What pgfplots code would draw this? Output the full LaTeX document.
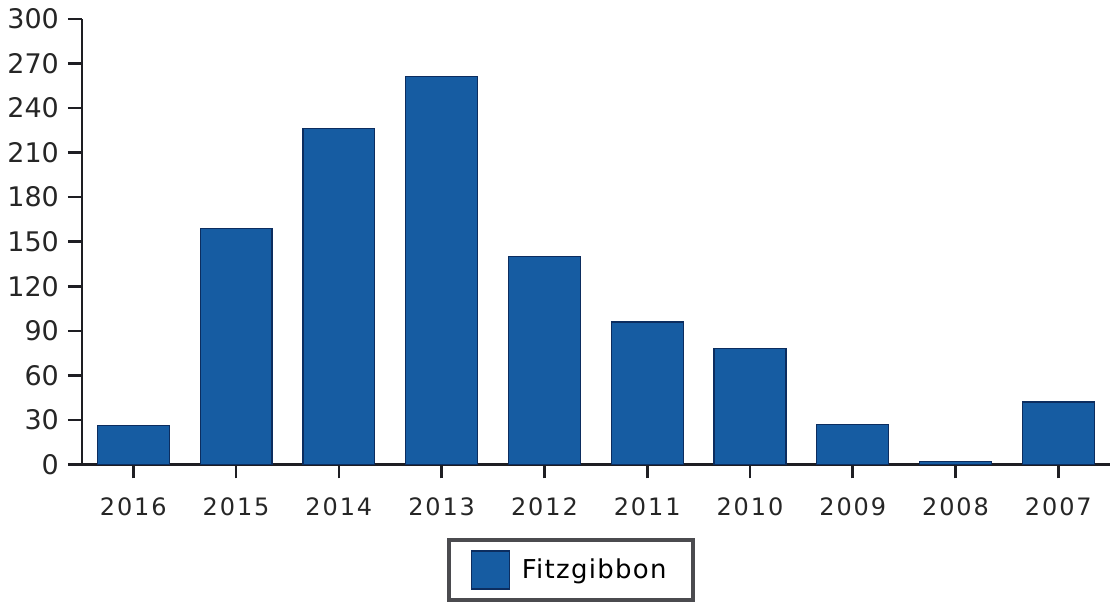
\documentclass[border=0pt]{standalone}
\usepackage{pgfplots}
\pgfplotsset{compat=1.18}
\usepackage{fontspec}
\setmainfont{DejaVu Sans}
\definecolor{barblue}{RGB}{22,92,162}
\definecolor{baredge}{RGB}{12,45,95}
\definecolor{axisgray}{RGB}{30,30,35}
\begin{document}
\begin{tikzpicture}
\begin{axis}[
  scale only axis,
  width=514.5pt, height=223pt,
  xmin=-0.5, xmax=9.5,
  ymin=0, ymax=300,
  ytick={0,30,...,300},
  xtick={0,...,9},
  xticklabels={2016,2015,2014,2013,2012,2011,2010,2009,2008,2007},
  axis x line*=bottom,
  axis y line*=left,
  axis line style={axisgray, line width=1.3pt, -},
  tick style={axisgray, line width=1.3pt},
  tick align=outside,
  major tick length=7pt,
  ticklabel style={font=\fontsize{12.5}{14}\selectfont, text=black!85},
  /pgf/number format/assume math mode=true,
  xticklabel style={yshift=-6pt, font=\fontsize{12}{14}\selectfont\addfontfeatures{LetterSpace=8}},
  yticklabel style={xshift=-1pt, font=\fontsize{13.5}{15}\selectfont},
  ybar,
  bar width=36pt,
  clip=false,
  legend style={
    at={(rel axis cs:0.4755,-0.166)}, anchor=north,
    draw=axisgray!80, line width=2pt,
    inner xsep=11pt, inner ysep=5pt,
    font=\fontsize{13}{15}\selectfont\addfontfeatures{LetterSpace=5},
    legend cell align=left,
  },
  legend image code/.code={
    \draw[fill=barblue, draw=baredge, line width=0.6pt] (0pt,-9.5pt) rectangle (19pt,9.5pt);
    \path (23pt,0pt);
  },
]
\addplot[fill=barblue, draw=baredge, line width=0.6pt] coordinates {
  (0,26) (1,159) (2,226) (3,261) (4,140) (5,96) (6,78) (7,27) (8,2) (9,42)
};
\addlegendentry{Fitzgibbon}
\path (rel axis cs:-0.0797,1.0426) rectangle (rel axis cs:1,-0.3094);
\end{axis}
\end{tikzpicture}
\end{document}
